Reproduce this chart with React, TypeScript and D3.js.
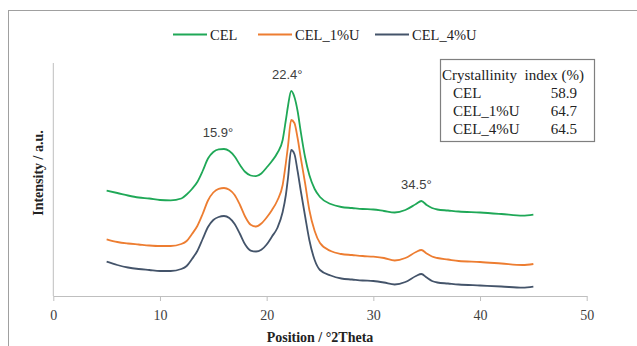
import { useRef, useEffect } from "react";
import * as d3 from "d3";

// 2theta grid (deg) shared by the three patterns
const theta = [5, 6, 7, 8, 9, 10, 11, 12, 12.5, 13, 13.5, 14, 14.5, 15, 15.5, 16, 16.5, 17, 17.5, 18, 18.5, 19, 19.5, 20, 20.5, 21, 21.5, 21.8, 22, 22.3, 22.6, 22.9, 23.2, 23.6, 24, 24.5, 25, 26, 27, 28, 29, 30, 31, 32, 33, 34, 34.5, 35, 35.5, 36, 37, 38, 40, 42, 44, 45];

const celValues = [1053, 1030, 1005, 985, 975, 960, 957, 975, 1015, 1070, 1140, 1250, 1375, 1440, 1466, 1470, 1450, 1395, 1310, 1240, 1205, 1198, 1225, 1285, 1350, 1430, 1560, 1760, 1900, 2050, 1990, 1850, 1640, 1390, 1210, 1070, 990, 920, 890, 880, 870, 865, 850, 835, 860, 920, 950, 910, 880, 865, 855, 845, 835, 820, 803, 813];
const cel1Values = [567, 540, 525, 515, 505, 500, 500, 520, 550, 620, 700, 820, 955, 1035, 1072, 1080, 1062, 1010, 910, 790, 712, 695, 725, 785, 860, 955, 1110, 1330, 1500, 1760, 1730, 1580, 1380, 1130, 860, 650, 530, 450, 420, 410, 400, 393, 380, 355, 380, 440, 460, 425, 395, 380, 365, 350, 340, 325, 310, 320];
const cel4Values = [343, 310, 285, 270, 260, 250, 250, 270, 300, 370, 450, 570, 690, 760, 790, 800, 780, 720, 620, 512, 454, 445, 462, 515, 595, 680, 840, 1010, 1180, 1460, 1420, 1250, 1050, 800, 560, 360, 260, 205, 175, 165, 155, 150, 135, 115, 140, 200, 220, 185, 150, 135, 125, 115, 105, 95, 83, 93];

const seriesNames = ["CEL", "CEL_1%U", "CEL_4%U"];
const seriesColors = ["#1fa857", "#ed7d31", "#44546a"];
const seriesValues = [celValues, cel1Values, cel4Values];

const xTicks = [0, 10, 20, 30, 40, 50];

// peak annotations: position and the series it sits on
const peakLabels = [
  { pos: 15.9, text: "15.9°", value: 1470 },
  { pos: 22.4, text: "22.4°", value: 2050 },
  { pos: 34.5, text: "34.5°", value: 950 },
];

const ciNames = ["CEL", "CEL_1%U", "CEL_4%U"];
const ciValues = ["58.9", "64.7", "64.5"];

export default function App() {
  const svgRef = useRef(null);

  useEffect(() => {
    const W = 637, H = 346;
    const svg = d3.select(svgRef.current);
    svg.selectAll("*").remove();
    svg.attr("width", W).attr("height", H);

    const serif = "'Liberation Serif', 'Times New Roman', serif";
    const sans = "'Liberation Sans', Arial, sans-serif";

    // outer chart frame
    svg.append("rect")
      .attr("x", 8.5).attr("y", 10.5)
      .attr("width", W + 10).attr("height", H + 10)
      .attr("fill", "#fff")
      .attr("stroke", "#a0a0a0")
      .attr("stroke-width", 1);

    const x = d3.scaleLinear().domain([0, 50]).range([53.3, 586.7]);
    const y = d3.scaleLinear().domain([0, 2330]).range([296, 63]);

    // axes
    svg.append("line")
      .attr("x1", x(0)).attr("x2", x(0))
      .attr("y1", y(2330)).attr("y2", y(0))
      .attr("stroke", "#bfbfbf").attr("stroke-width", 1);

    const xAxis = svg.append("g").attr("transform", `translate(0,${y(0)})`)
      .call(d3.axisBottom(x).tickValues(xTicks).tickSize(5).tickSizeOuter(0).tickPadding(9));
    xAxis.select(".domain").attr("stroke", "#bfbfbf");
    xAxis.selectAll(".tick line").attr("stroke", "#bfbfbf");
    xAxis.selectAll(".tick text")
      .attr("font-family", serif).attr("font-size", 14).attr("fill", "#404040");

    svg.append("text")
      .attr("x", 320).attr("y", 342)
      .attr("text-anchor", "middle")
      .attr("font-family", serif).attr("font-weight", "bold").attr("font-size", 14)
      .attr("fill", "#222")
      .text("Position / °2Theta");

    svg.append("text")
      .attr("transform", "translate(43,173) rotate(-90)")
      .attr("text-anchor", "middle")
      .attr("font-family", serif).attr("font-weight", "bold").attr("font-size", 14)
      .attr("fill", "#222")
      .text("Intensity / a.u.");

    // patterns
    const line = d3.line<number>()
      .x((d, i) => x(theta[i]))
      .y((d) => y(d))
      .curve(d3.curveMonotoneX);

    seriesValues.forEach((vals, i) => {
      svg.append("path")
        .datum(vals)
        .attr("d", line)
        .attr("fill", "none")
        .attr("stroke", seriesColors[i])
        .attr("stroke-width", 1.8)
        .attr("stroke-linejoin", "round");
    });

    // peak labels
    svg.selectAll("text.peak")
      .data(peakLabels)
      .enter()
      .append("text")
      .attr("class", "peak")
      .attr("x", (d) => x(d.pos) - 5)
      .attr("y", (d) => y(d.value) - 12)
      .attr("text-anchor", "middle")
      .attr("font-family", sans).attr("font-size", 13)
      .attr("fill", "#404040")
      .text((d) => d.text);

    // legend
    const legendX = [173, 258, 375];
    seriesNames.forEach((name, i) => {
      const g = svg.append("g").attr("transform", `translate(${legendX[i]},34.5)`);
      g.append("line").attr("x1", 0).attr("x2", 34).attr("y1", 0).attr("y2", 0)
        .attr("stroke", seriesColors[i]).attr("stroke-width", 2);
      g.append("text").attr("x", 37).attr("y", 5)
        .attr("font-family", serif).attr("font-size", 14.5).attr("fill", "#222")
        .text(name);
    });

    // crystallinity index box
    const box = svg.append("g").attr("transform", "translate(440,59)");
    box.append("rect")
      .attr("x", 0.5).attr("y", 0.5).attr("width", 154).attr("height", 82)
      .attr("fill", "#fff").attr("stroke", "#7f7f7f").attr("stroke-width", 1.2);
    box.append("text")
      .attr("x", 2).attr("y", 21)
      .attr("font-family", serif).attr("font-size", 15).attr("fill", "#222")
      .attr("xml:space", "preserve")
      .text("Crystallinity  index (%)");
    ciNames.forEach((n, i) => {
      box.append("text").attr("x", 13).attr("y", 39 + i * 18)
        .attr("font-family", serif).attr("font-size", 15).attr("fill", "#222")
        .text(n);
      box.append("text").attr("x", 137).attr("y", 39 + i * 18)
        .attr("text-anchor", "end")
        .attr("font-family", serif).attr("font-size", 15).attr("fill", "#222")
        .text(ciValues[i]);
    });
  }, []);

  return (
    <div style={{ position: "fixed", left: 0, top: 0 }}>
      <svg ref={svgRef} style={{ display: "block" }}></svg>
    </div>
  );
}
